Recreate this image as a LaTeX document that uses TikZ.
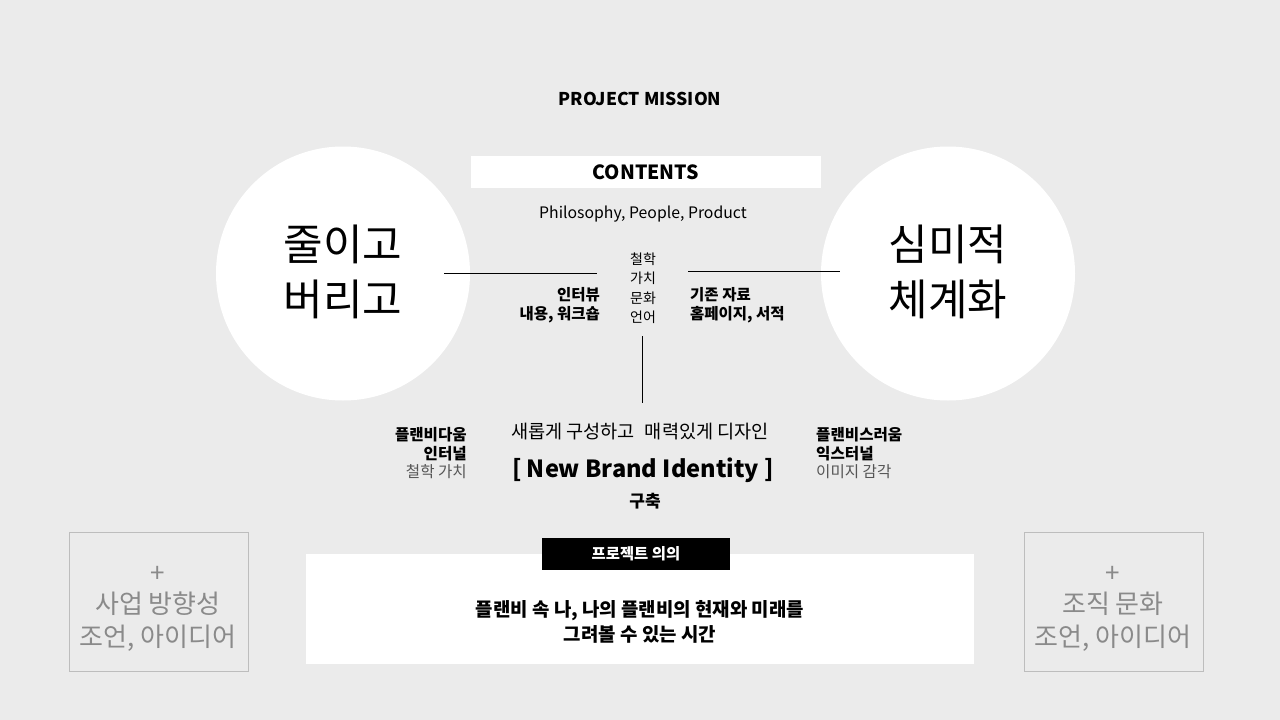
\documentclass[tikz,border=0pt]{standalone}
\usepackage{fontspec}
\setmainfont{Noto Sans CJK KR}
\usepackage{xcolor}
\definecolor{bg}{HTML}{EBEBEB}
\definecolor{boxline}{HTML}{BDBDBD}
\definecolor{softtext}{HTML}{8A8A8A}
\definecolor{midtext}{HTML}{555555}
\begin{document}
\begin{tikzpicture}[x=1pt,y=-1pt,
		every node/.style={inner sep=0pt},
		boldtxt/.style={font=\fontsize{#1}{#1}\selectfont\bfseries},
		plaintxt/.style={font=\fontsize{#1}{#1}\selectfont},
		sidebox/.style={draw=boxline, line width=1pt}]
		% background
		\fill[bg] (0,0) rectangle (1280,720);
		\useasboundingbox (0,0) rectangle (1280,720);
		\node[boldtxt=17.6] (mission) at (640,99) {PROJECT MISSION};
		\fill[white] (471,156) rectangle (821,188);
		\node[boldtxt=19.5] (contents) at (646,172) {CONTENTS};
		\node[plaintxt=15.8] (ppp) at (643,214) {Philosophy, People, Product};
		% two circles
		\def\r{127};
		\coordinate (L) at (343,273.5);
		\coordinate (R) at (948,273.5);
		\fill[white] (L) circle (\r);
		\fill[white] (R) circle (\r);
		\node[plaintxt=43, align=center] (reduce) at ([yshift=2pt]L) {줄이고\\[12pt]버리고};
		\node[plaintxt=43, align=center] (aesth) at ([yshift=2pt]R) {심미적\\[12pt]체계화};
		% centre column
		\node[plaintxt=14, align=center] (values) at (643,288) {철학\\[5.5pt]가치\\[5.5pt]문화\\[5.5pt]언어};
		\node[boldtxt=15.5, align=right, anchor=east] (interview) at (600,305) {인터뷰\\[4pt]내용, 워크숍};
		\node[boldtxt=15.5, align=left, anchor=west] (existing) at (690,305) {기존 자료\\[4pt]홈페이지, 서적};
		\coordinate (l1) at (444,273);
		\coordinate (l2) at (597,273);
		\coordinate (r1) at (688,271);
		\coordinate (r2) at (840,271);
		\draw[line width=1pt] (l1) -- (l2);
		\draw[line width=1pt] (r1) -- (r2);
		\coordinate (v1) at (642,336);
		\coordinate (v2) at (642,403);
		\draw[line width=1pt] (v1) -- (v2);
		% brand identity
		\node[plaintxt=18.6] (design) at (640,432) {새롭게 구성하고\hspace{10pt}매력있게 디자인};
		\node[boldtxt=23.6] (nbi) at (643,470) {[ New Brand Identity ]};
		\node[boldtxt=17] (build) at (645,501) {구축};
		\node[align=right, anchor=east] (inner) at (467,453) {\fontsize{15.6}{15.6}\selectfont\bfseries 플랜비다움\\[3pt]\fontsize{15.6}{15.6}\selectfont\bfseries 인터널\\[3pt]\fontsize{15.6}{15.6}\selectfont\color{midtext}철학 가치};
		\node[align=left, anchor=west] (outer) at (816,453) {\fontsize{15.6}{15.6}\selectfont\bfseries 플랜비스러움\\[3pt]\fontsize{15.6}{15.6}\selectfont\bfseries 익스터널\\[3pt]\fontsize{15.6}{15.6}\selectfont\color{midtext}이미지 감각};
		% side boxes
		\draw[sidebox] (69,532) rectangle (248,671);
		\draw[sidebox] (1024,532) rectangle (1203,671);
		\node[plaintxt=26, text=softtext, align=center] (bizadv) at (158,609) {+\\[5pt]사업 방향성\\[7pt]조언, 아이디어};
		\node[plaintxt=26, text=softtext, align=center] (orgadv) at (1113,609) {+\\[5pt]조직 문화\\[7pt]조언, 아이디어};
		% meaning box
		\fill[white] (306,554) rectangle (974,664);
		\fill[black] (542,538) rectangle (730,570);
		\node[boldtxt=15.4, text=white] (meaning) at (636,554) {프로젝트 의의};
		\node[boldtxt=18.9, align=center] (time) at (640,622) {플랜비 속 나, 나의 플랜비의 현재와 미래를\\[3pt]그려볼 수 있는 시간};
		\end{tikzpicture}
\end{document}
